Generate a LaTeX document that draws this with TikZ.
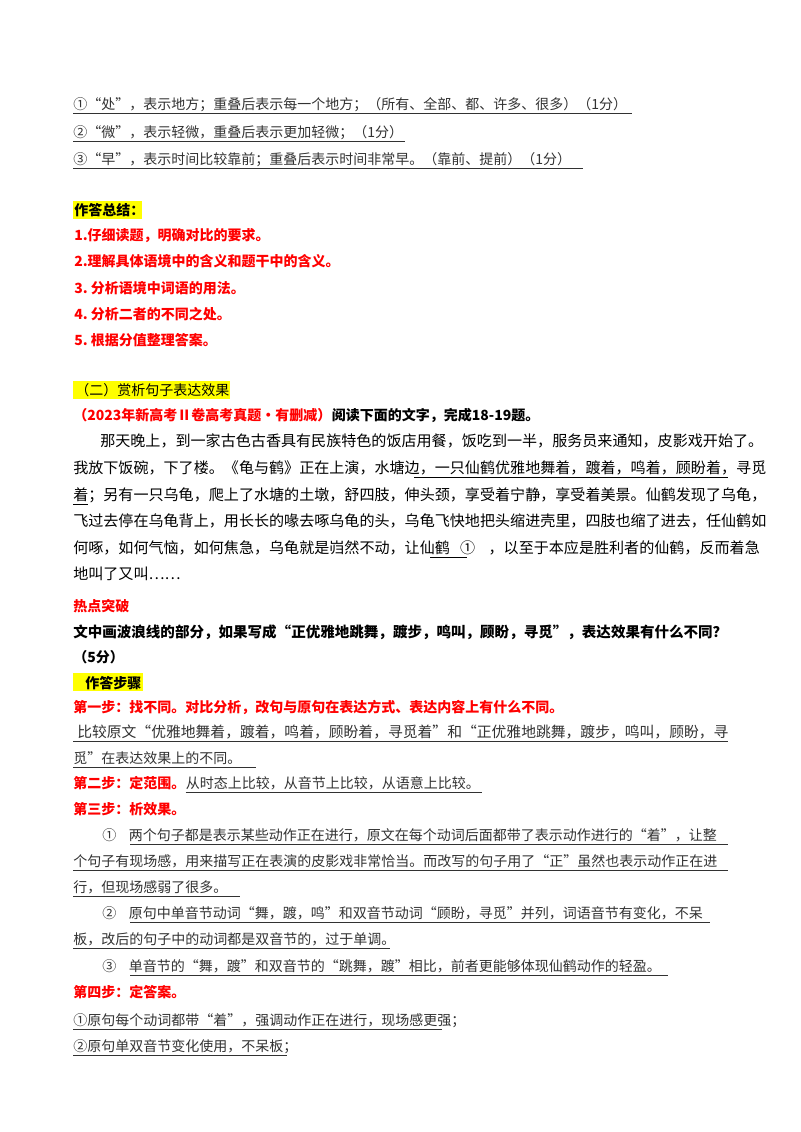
\documentclass[tikz,border=0pt]{standalone}
\usepackage{fontspec}
\setmainfont{Noto Sans CJK SC}
\definecolor{myred}{RGB}{255,0,0}
\definecolor{hl}{RGB}{255,255,0}
\definecolor{gr}{RGB}{50,50,50}
\begin{document}
\begin{tikzpicture}[x=0.75pt,y=-0.75pt,
  ln/.style={anchor=base west,inner sep=0pt,font=\fontsize{10.5}{12}\selectfont,text=gr},
  bd/.style={anchor=base west,inner sep=0pt,font=\fontsize{10.5}{12}\selectfont\bfseries,text=black},
  rd/.style={anchor=base west,inner sep=0pt,font=\fontsize{10.5}{12}\selectfont\bfseries,text=myred},
  pa/.style={anchor=base west,inner sep=0pt,font=\fontsize{11.3}{12}\selectfont,text=black},
  ulst/.style={draw=gr,line width=0.6pt}]
\useasboundingbox (0,0) rectangle (800,1132);
\fill[white] (0,0) rectangle (800,1132);
% highlights
\fill[hl] (73,201) rectangle (142,219);
\fill[hl] (73,381) rectangle (230,399);
\fill[hl] (73,673) rectangle (143,691);
% top
\node[ln] (t1) at (73,109) {①“处”，表示地方；重叠后表示每一个地方；（所有、全部、都、许多、很多）（1分）};
\node[ln] (t2) at (73,137) {②“微”，表示轻微，重叠后表示更加轻微；（1分）};
\node[ln] (t3) at (73,164) {③“早”，表示时间比较靠前；重叠后表示时间非常早。（靠前、提前）（1分）};
\draw[ulst] (73,113) -- (632,113);
\draw[ulst] (73,141) -- (405,141);
\draw[ulst] (73,168) -- (583,168);
\node[bd] (s0) at (74,215) {作答总结：};
\node[rd] (s1) at (74,240) {1.仔细读题，明确对比的要求。};
\node[rd] (s2) at (74,266) {2.理解具体语境中的含义和题干中的含义。};
\node[rd] (s3) at (74,293) {3.\ 分析语境中词语的用法。};
\node[rd] (s4) at (74,319) {4.\ 分析二者的不同之处。};
\node[rd] (s5) at (74,345) {5.\ 根据分值整理答案。};
\node[ln,text=black] (h2) at (75,395) {（二）赏析句子表达效果};
\node[rd] (q0) at (73,420) {（2023年新高考Ⅱ卷高考真题•有删减）};
\node[bd,anchor=base west] (q1) at (q0.base east) {阅读下面的文字，完成18-19题。};
% passage
\node[pa] (p1) at (100,446) {那天晚上，到一家古色古香具有民族特色的饭店用餐，饭吃到一半，服务员来通知，皮影戏开始了。};
\node[pa] (p2) at (73,473) {我放下饭碗，下了楼。《龟与鹤》正在上演，水塘边，一只仙鹤优雅地舞着，踱着，鸣着，顾盼着，寻觅};
\node[pa] (p3) at (73,500) {着；另有一只乌龟，爬上了水塘的土墩，舒四肢，伸头颈，享受着宁静，享受着美景。仙鹤发现了乌龟，};
\node[pa] (p4) at (73,526) {飞过去停在乌龟背上，用长长的喙去啄乌龟的头，乌龟飞快地把头缩进壳里，四肢也缩了进去，任仙鹤如};
\node[pa] (p5) at (73,553) {何啄，如何气恼，如何焦急，乌龟就是岿然不动，让仙鹤\ \ \ ①\ \ \ \ ，以至于本应是胜利者的仙鹤，反而着急};
\node[pa] (p6) at (73,579) {地叫了又叫……};
\draw[black,line width=0.6pt] (414,477) -- (728,477);
\draw[black,line width=0.6pt] (73,504) -- (88,504);
\draw[black,line width=0.6pt] (430,557) -- (467,557);
\node[rd] (r0) at (73,611) {热点突破};
\node[bd,font=\fontsize{10.9}{12}\selectfont\bfseries] (r1) at (73,637) {文中画波浪线的部分，如果写成“正优雅地跳舞，踱步，鸣叫，顾盼，寻觅”，表达效果有什么不同？};
\node[bd] (r2) at (73,662) {（5分）};
\node[bd] (r3) at (85,688) {作答步骤};
\node[rd] (a1) at (73,712) {第一步：找不同。对比分析，改句与原句在表达方式、表达内容上有什么不同。};
\node[ln,font=\fontsize{11.1}{12}\selectfont] (a2) at (77,737) {比较原文“优雅地舞着，踱着，鸣着，顾盼着，寻觅着”和“正优雅地跳舞，踱步，鸣叫，顾盼，寻};
\node[ln] (a3) at (73,763) {觅”在表达效果上的不同。};
\draw[ulst] (73,741) -- (728,741);
\draw[ulst] (73,767) -- (256,767);
\node[rd] (a4) at (73,788) {第二步：定范围。};
\node[ln,anchor=base west] (a5) at (a4.base east) {从时态上比较，从音节上比较，从语意上比较。};
\draw[ulst] (a5.base west) ++(0,4) -- (482,792);
\node[rd] (b0) at (73,814) {第三步：析效果。};
\node[ln] (b1) at (102,840) {①\ \ \ \ 两个句子都是表示某些动作正在进行，原文在每个动词后面都带了表示动作进行的“着”，让整};
\node[ln] (b2) at (73,866) {个句子有现场感，用来描写正在表演的皮影戏非常恰当。而改写的句子用了“正”虽然也表示动作正在进};
\node[ln] (b3) at (73,892) {行，但现场感弱了很多。};
\node[ln] (b4) at (102,918) {②\ \ \ \ 原句中单音节动词“舞，踱，鸣”和双音节动词“顾盼，寻觅”并列，词语音节有变化，不呆};
\node[ln] (b5) at (73,944) {板，改后的句子中的动词都是双音节的，过于单调。};
\node[ln] (b6) at (102,971) {③\ \ \ \ 单音节的“舞，踱”和双音节的“跳舞，踱”相比，前者更能够体现仙鹤动作的轻盈。};
\draw[ulst] (130,844) -- (728,844);
\draw[ulst] (73,870) -- (728,870);
\draw[ulst] (73,896) -- (240,896);
\draw[ulst] (130,922) -- (710,922);
\draw[ulst] (73,948) -- (390,948);
\draw[ulst] (130,975) -- (668,975);
\node[rd] (c0) at (73,997) {第四步：定答案。};
\node[ln] (c1) at (73,1025) {①原句每个动词都带“着”，强调动作正在进行，现场感更强；};
\node[ln] (c2) at (73,1051) {②原句单双音节变化使用，不呆板；};
\draw[ulst] (73,1029) -- (442,1029);
\draw[ulst] (73,1055) -- (287,1055);
\end{tikzpicture}
\end{document}
